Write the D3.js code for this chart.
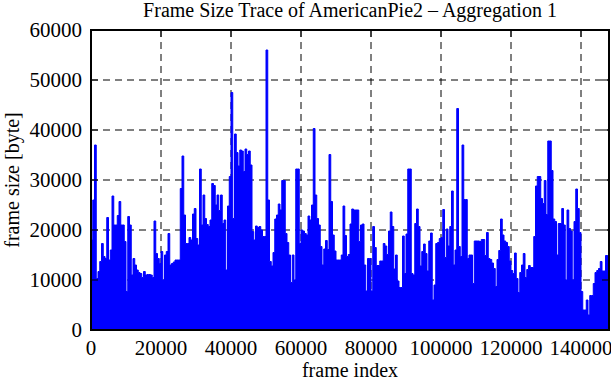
<!DOCTYPE html>
<html>
<head>
<meta charset="utf-8">
<script src="https://cdn.jsdelivr.net/npm/d3@7/dist/d3.min.js"></script>
<style>
  html, body { margin: 0; padding: 0; background: #fff; }
  svg { display: block; }
  text { font-family: "Liberation Serif", "Times New Roman", serif; fill: #000; }
</style>
</head>
<body>
<svg id="chart" width="611" height="380"></svg>
<script>
// ---- data ----
const titleText = "Frame Size Trace of AmericanPie2 \u2013 Aggregation 1";
const xLabel = "frame index";
const yLabel = "frame size [byte]";
const xTicks = [0, 20000, 40000, 60000, 80000, 100000, 120000, 140000];
const yTicks = [0, 10000, 20000, 30000, 40000, 50000, 60000];
const xMax = 148000;
const yMax = 60000;
const binFrames = 500;           // frames per envelope sample
// peak frame size per 500-frame bin (envelope of the trace)
const framePeak = [
  18000, 26000, 37000, 10300, 11700, 13700, 17300, 14700, 14300, 22500,
  14000, 16000, 26800, 21000, 21000, 22900, 25700, 21000, 21000, 17700,
  7700, 22700, 21000, 11000, 14300, 13000, 12000, 11500, 11300, 10500,
  11700, 11000, 11100, 11100, 11000, 10500, 21800, 15300, 14300, 13300,
  15700, 10000, 15000, 15700, 19300, 13000, 13300, 13600, 14000, 14000,
  14000, 28300, 34800, 23000, 17300, 17300, 18500, 18000, 23200, 24300,
  18300, 17000, 32200, 21000, 27000, 22300, 21100, 20700, 22000, 29300,
  28900, 25000, 27000, 23900, 27000, 21300, 22000, 12000, 24800, 30700,
  47500, 22300, 39200, 35500, 32800, 36000, 35800, 31700, 36200, 35100,
  35800, 33000, 19700, 18000, 20800, 20500, 20700, 20000, 18700, 18700,
  56000, 26000, 13700, 12800, 15500, 22200, 23000, 25200, 24000, 29900,
  29900, 19300, 17500, 15000, 9500, 15000, 10000, 32200, 32200, 17300,
  20000, 19800, 19300, 19000, 22800, 22000, 25000, 40300, 27000, 22300,
  21000, 16700, 13000, 16200, 17900, 16100, 35100, 25700, 19000, 15800,
  14000, 14000, 14000, 15000, 24800, 18900, 14700, 15100, 21200, 24200,
  24000, 24000, 24000, 17700, 21000, 21200, 13000, 7800, 14300, 14300,
  7800, 20700, 16500, 12900, 12900, 13800, 13800, 17300, 16800, 15100,
  19800, 23600, 20700, 12200, 15000, 9800, 8500, 8500, 18800, 11300,
  19200, 32200, 32200, 11300, 11000, 21300, 24200, 20700, 12800, 15700,
  17200, 15300, 11800, 17800, 19400, 6000, 9000, 17300, 17500, 18300,
  18500, 24100, 14500, 20200, 16800, 20700, 27800, 13000, 16000, 44300,
  16700, 14700, 37000, 26100, 26100, 14300, 15000, 15000, 9300, 17800,
  17800, 17800, 17700, 18100, 18100, 14900, 19500, 14300, 14100, 13400,
  12300, 8700, 14100, 15900, 22200, 19000, 17800, 17500, 16700, 13800,
  11900, 11300, 15400, 10300, 7500, 11500, 13000, 15300, 10500, 12100,
  12900, 12500, 12500, 18700, 28800, 30700, 30700, 26300, 25300, 29900,
  23100, 37800, 37800, 31900, 22200, 21700, 15000, 21300, 21300, 24300,
  21000, 10000, 24000, 20300, 19800, 10000, 21700, 28200, 24300, 19500,
  7700, 4000, 4000, 6000, 3000, 6900, 6900, 9300, 11500, 11900,
  12300, 13700, 11800, 11800, 14900, 14900
];

// ---- layout ----
const W = 611, H = 380;
const m = { left: 91, top: 30, right: 2, bottom: 50 };
const x = d3.scaleLinear().domain([0, xMax]).range([m.left, W - m.right]);
const y = d3.scaleLinear().domain([0, yMax]).range([H - m.bottom, m.top]);
const svg = d3.select("#chart");
const fontSize = 20;
const tickFont = 21;
const tickLen = 7;

// grid (behind data)
const grid = svg.append("g").attr("stroke", "#000").attr("stroke-width", 1)
  .attr("stroke-dasharray", "7,5").attr("fill", "none");
xTicks.filter(t => t > 0).forEach(t => {
  grid.append("line").attr("x1", x(t)).attr("x2", x(t))
    .attr("y1", y(yMax)).attr("y2", y(0));
});
yTicks.filter(t => t > 0 && t < yMax).forEach(t => {
  grid.append("line").attr("x1", x(0)).attr("x2", x(xMax))
    .attr("y1", y(t)).attr("y2", y(t));
});

// bottom ticks (hidden under the trace in the reference)
const bt = svg.append("g").attr("stroke", "#000").attr("stroke-width", 1);
xTicks.forEach(t => {
  bt.append("line").attr("x1", x(t)).attr("x2", x(t))
    .attr("y1", y(0)).attr("y2", y(0) - tickLen);
});

// trace envelope
const pts = framePeak.map((v, i) => ({ f: i * binFrames, v }));
pts.push({ f: framePeak.length * binFrames, v: framePeak[framePeak.length - 1] });
svg.append("clipPath").attr("id", "clip").append("rect")
  .attr("x", x(0)).attr("y", y(yMax)).attr("width", x(xMax) - x(0)).attr("height", y(0) - y(yMax));
const area = d3.area()
  .x(d => x(d.f)).y0(y(0)).y1(d => y(d.v))
  .curve(d3.curveStepAfter);
svg.append("path").datum(pts)
  .attr("clip-path", "url(#clip)")
  .attr("d", area)
  .attr("fill", "#0000ff")
  .attr("stroke", "#0000ff")
  .attr("stroke-width", 1);

// front ticks
const ft = svg.append("g").attr("stroke", "#000").attr("stroke-width", 1);
yTicks.forEach(t => {
  ft.append("line").attr("x1", x(0)).attr("x2", x(0) + tickLen).attr("y1", y(t)).attr("y2", y(t));
  ft.append("line").attr("x1", x(xMax)).attr("x2", x(xMax) - tickLen).attr("y1", y(t)).attr("y2", y(t));
});
xTicks.forEach(t => {
  ft.append("line").attr("x1", x(t)).attr("x2", x(t)).attr("y1", y(yMax)).attr("y2", y(yMax) + tickLen);
});

// border
svg.append("rect")
  .attr("x", x(0)).attr("y", y(yMax))
  .attr("width", x(xMax) - x(0)).attr("height", y(0) - y(yMax))
  .attr("fill", "none").attr("stroke", "#000").attr("stroke-width", 2);

// tick labels
svg.append("g").selectAll("text").data(yTicks).join("text")
  .attr("x", x(0) - 9).attr("y", d => y(d)).attr("dy", "0.35em")
  .attr("text-anchor", "end").attr("font-size", tickFont)
  .text(d => d);
svg.append("g").selectAll("text").data(xTicks).join("text")
  .attr("x", d => x(d)).attr("y", y(0) + 25)
  .attr("text-anchor", "middle").attr("font-size", tickFont)
  .text(d => d);

// titles
svg.append("text").attr("x", (x(0) + x(xMax)) / 2).attr("y", 17)
  .attr("text-anchor", "middle").attr("font-size", fontSize).text(titleText);
svg.append("text").attr("x", (x(0) + x(xMax)) / 2).attr("y", 377)
  .attr("text-anchor", "middle").attr("font-size", fontSize).text(xLabel);
svg.append("text")
  .attr("transform", `translate(19,${(y(0) + y(yMax)) / 2}) rotate(-90)`)
  .attr("text-anchor", "middle").attr("font-size", fontSize).text(yLabel);
</script>
</body>
</html>
